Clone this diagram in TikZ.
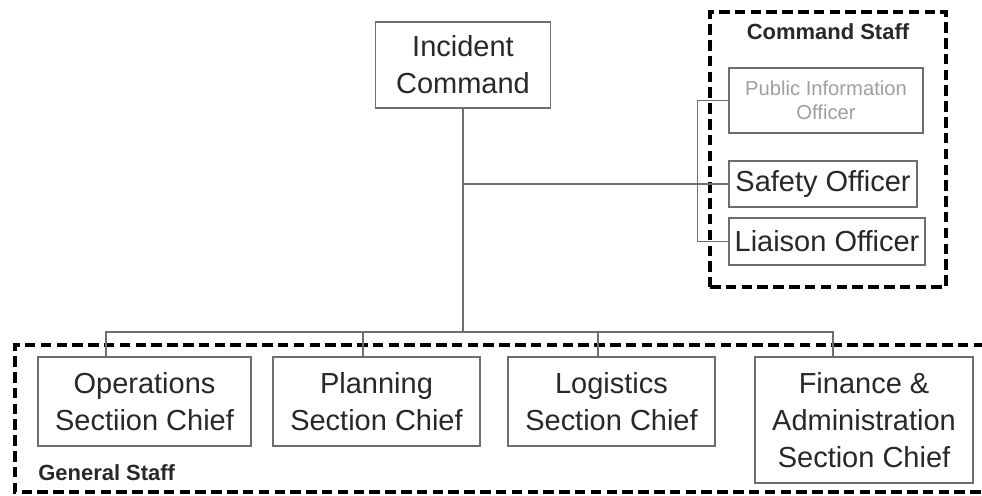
\documentclass[tikz,border=0pt]{standalone}
\usepackage{fontspec}
\setmainfont{Liberation Sans}
\usepackage{tikz}
\usetikzlibrary{positioning}
\definecolor{boxline}{RGB}{110,110,110}
\definecolor{textgray}{RGB}{40,40,40}

\begin{document}
\begin{tikzpicture}[
    x=0.02cm, y=-0.02cm,
    box/.style={rectangle, draw=boxline, line width=0.8pt, align=center, inner sep=0pt, text=textgray, font=\fontsize{16.5}{21}\selectfont},
    smallbox/.style={box, text=gray!75, font=\fontsize{11.5}{13.5}\selectfont},
    frame/.style={rectangle, draw=black, line width=2pt, dash pattern=on 6pt off 3pt, inner sep=0pt},
    framelabel/.style={font=\fontsize{12.5}{14}\selectfont\bfseries, text=textgray, inner sep=0pt},
    link/.style={draw=boxline, line width=0.8pt}
]
    \useasboundingbox (0,0) rectangle (982,496);

    % Frames
    \node[frame, minimum width=4.72cm, minimum height=5.5cm] (cmdframe) at (828,149.5) {};
    \node[framelabel] (cmdlabel) at (828,32) {Command Staff};
    \draw[frame] (1000,345) -- (15,345) -- (15,492) -- (1000,492);
    \node[framelabel, anchor=west] (genlabel) at (38,473) {General Staff};

    % Nodes
    \node[box, minimum width=3.5cm, minimum height=1.72cm] (ic) at (463,65) {Incident\\Command};
    \node[smallbox, minimum width=3.88cm, minimum height=1.3cm] (pio) at (826,100.5) {Public Information\\Officer};
    \node[box, minimum width=3.76cm, minimum height=0.92cm] (safety) at (823,184) {Safety Officer};
    \node[box, minimum width=3.92cm, minimum height=0.94cm] (liaison) at (827,241.5) {Liaison Officer};

    \node[box, minimum width=4.26cm, minimum height=1.78cm] (ops) at (144.5,401.5) {Operations\\Sectiion Chief};
    \node[box, minimum width=4.14cm, minimum height=1.78cm] (plan) at (376.5,401.5) {Planning\\Section Chief};
    \node[box, minimum width=4.14cm, minimum height=1.78cm] (logi) at (611.5,401.5) {Logistics\\Section Chief};
    \node[box, minimum width=4.36cm, minimum height=2.52cm] (fin) at (864,420) {Finance \&\\Administration\\Section Chief};

    \coordinate (bus) at (463,332);

    % Lines
    \draw[link] (ic.south) -- (bus);
    \draw[link] (safety.west) -- (safety.west -| ic.south);
    \draw[link] (pio.west) -- ++(-31,0) |- (liaison.west);
    \draw[link] ([xshift=-0.77cm]ops.north) |- (bus) -| ([xshift=-0.62cm]fin.north);
    \draw[link] ([xshift=-0.27cm]plan.north) -- ([xshift=-0.27cm]plan.north |- bus);
    \draw[link] ([xshift=-0.27cm]logi.north) -- ([xshift=-0.27cm]logi.north |- bus);
\end{tikzpicture}
\end{document}
